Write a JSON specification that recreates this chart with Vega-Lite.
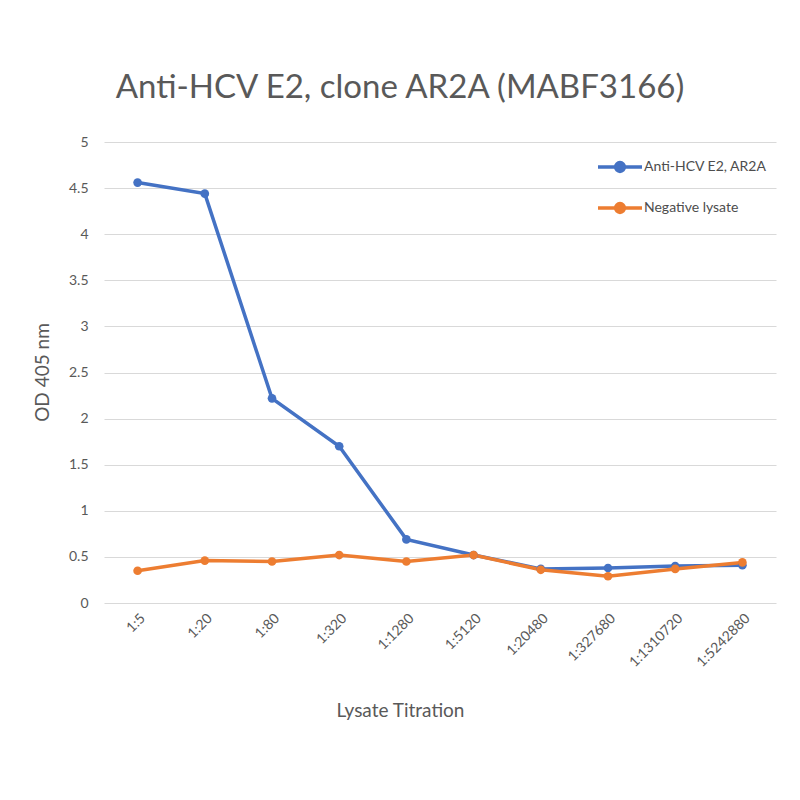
{
  "$schema": "https://vega.github.io/schema/vega-lite/v6.json",
  "description": "ELISA titration of anti-HCV E2 clone AR2A vs negative lysate.",
  "autosize": {"type": "none"},
  "padding": {"left": 104, "top": 142, "right": 24, "bottom": 197},
  "width": 672,
  "height": 461,
  "background": "white",
  "title": {
    "text": "Anti-HCV E2, clone AR2A (MABF3166)",
    "fontSize": 33,
    "font": "Lato",
    "fontWeight": "normal",
    "color": "#595959",
    "anchor": "middle",
    "dx": -40,
    "offset": 30
  },
  "data": {
    "values": [
      {"series": "Anti-HCV E2, AR2A", "dilution": "1:5", "od": 4.56},
      {"series": "Anti-HCV E2, AR2A", "dilution": "1:20", "od": 4.44},
      {"series": "Anti-HCV E2, AR2A", "dilution": "1:80", "od": 2.22},
      {"series": "Anti-HCV E2, AR2A", "dilution": "1:320", "od": 1.70},
      {"series": "Anti-HCV E2, AR2A", "dilution": "1:1280", "od": 0.69},
      {"series": "Anti-HCV E2, AR2A", "dilution": "1:5120", "od": 0.52},
      {"series": "Anti-HCV E2, AR2A", "dilution": "1:20480", "od": 0.37},
      {"series": "Anti-HCV E2, AR2A", "dilution": "1:327680", "od": 0.38},
      {"series": "Anti-HCV E2, AR2A", "dilution": "1:1310720", "od": 0.40},
      {"series": "Anti-HCV E2, AR2A", "dilution": "1:5242880", "od": 0.41},
      {"series": "Negative lysate", "dilution": "1:5", "od": 0.35},
      {"series": "Negative lysate", "dilution": "1:20", "od": 0.46},
      {"series": "Negative lysate", "dilution": "1:80", "od": 0.45},
      {"series": "Negative lysate", "dilution": "1:320", "od": 0.52},
      {"series": "Negative lysate", "dilution": "1:1280", "od": 0.45},
      {"series": "Negative lysate", "dilution": "1:5120", "od": 0.52},
      {"series": "Negative lysate", "dilution": "1:20480", "od": 0.36},
      {"series": "Negative lysate", "dilution": "1:327680", "od": 0.29},
      {"series": "Negative lysate", "dilution": "1:1310720", "od": 0.37},
      {"series": "Negative lysate", "dilution": "1:5242880", "od": 0.44}
    ]
  },
  "mark": {
    "type": "line",
    "strokeWidth": 3.5,
    "point": {"filled": true, "size": 75}
  },
  "encoding": {
    "x": {
      "field": "dilution",
      "type": "ordinal",
      "sort": null,
      "scale": {"paddingOuter": 0.5},
      "axis": {
        "title": "Lysate Titration",
        "titleFont": "Lato",
        "titleFontSize": 19,
        "titleFontWeight": "normal",
        "titleColor": "#595959",
        "titleX": 296,
        "titleY": 107,
        "titleBaseline": "middle",
        "labelAngle": -45,
        "labelFont": "Lato",
        "labelFontSize": 14,
        "labelColor": "#595959",
        "labelPadding": 8,
        "ticks": false,
        "domain": false,
        "grid": false
      }
    },
    "y": {
      "field": "od",
      "type": "quantitative",
      "scale": {"domain": [0, 5]},
      "axis": {
        "title": "OD 405 nm",
        "titleFont": "Lato",
        "titleFontSize": 19,
        "titleFontWeight": "normal",
        "titleColor": "#595959",
        "titleX": -62,
        "titleY": 230,
        "titleAngle": -90,
        "titleAlign": "center",
        "titleBaseline": "middle",
        "values": [0, 0.5, 1, 1.5, 2, 2.5, 3, 3.5, 4, 4.5, 5],
        "format": "~g",
        "labelFont": "Lato",
        "labelFontSize": 14,
        "labelColor": "#595959",
        "labelPadding": 16,
        "ticks": false,
        "domain": false,
        "gridColor": "#d9d9d9",
        "gridWidth": 1.2
      }
    },
    "color": {
      "field": "series",
      "type": "nominal",
      "scale": {
        "domain": ["Anti-HCV E2, AR2A", "Negative lysate"],
        "range": ["#4472C4", "#ED7D31"]
      },
      "legend": {
        "title": null,
        "orient": "none",
        "legendX": 492,
        "legendY": 1,
        "symbolType": "M-1,0L1,0M0.2,0A0.2,0.2 0 1,1 -0.2,0A0.2,0.2 0 1,1 0.2,0",
        "symbolSize": 1936,
        "symbolStrokeWidth": 3.5,
        "labelFont": "Lato",
        "labelFontSize": 14,
        "labelColor": "#4d4d4d",
        "labelOffset": 0,
        "rowPadding": 5,
        "encode": {
          "symbols": {
            "update": {"fill": {"scale": "color", "field": "value"}}
          }
        }
      }
    }
  },
  "config": {
    "view": {"stroke": null}
  }
}
